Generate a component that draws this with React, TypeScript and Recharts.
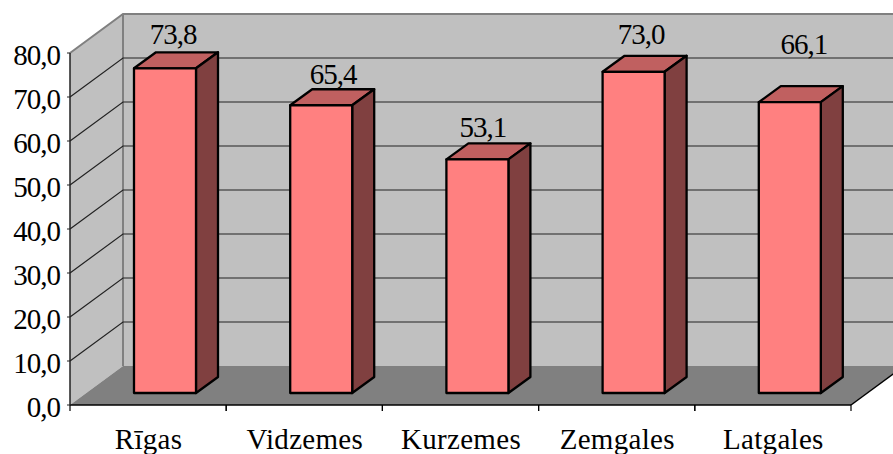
import { BarChart, Bar, XAxis, YAxis, CartesianGrid, ReferenceArea, LabelList } from 'recharts'

const REGIONS = ['Rīgas', 'Vidzemes', 'Kurzemes', 'Zemgales', 'Latgales']
const VALUES = [73.8, 65.4, 53.1, 73.0, 66.1]
const Y_TICKS = [0, 10, 20, 30, 40, 50, 60, 70, 80]

// the old 3D chart placed its labels by hand, so they need individual nudges
const LABEL_DX = [8, 12, 5.5, 7.5, 14]
const LABEL_DY = [24, 21, 22, 28, 48]

const WIDTH = 893
const HEIGHT = 454
const AXIS_W = 70
const AXIS_H = 49
const MARGIN = { top: 53, right: 42, bottom: 0, left: 0 }
const BAND = (WIDTH - AXIS_W - MARGIN.right) / REGIONS.length

// depth of the chart box and of the bars
const WALL_DX = 53
const WALL_DY = 39
const BAR_SHIFT_X = 17
const BAR_SHIFT_Y = 12
const BAR_DX = 22
const BAR_DY = 16

const FONT = '"Liberation Serif", "Times New Roman", serif'
const FONT_SIZE = 29
const fmt = (v: number) => v.toFixed(1).replace('.', ',')

function Walls({ x, y, width, height }: any) {
  const bottom = y + height
  const right = x + width
  return (
    <g>
      <polygon points={`${x},${y} ${x + WALL_DX},${y - WALL_DY} ${WIDTH + 20},${y - WALL_DY} ${WIDTH + 20},${bottom - WALL_DY} ${x + WALL_DX},${bottom - WALL_DY} ${x},${bottom}`} fill="#c0c0c0" />
      <polygon points={`${x},${bottom} ${x + WALL_DX},${bottom - WALL_DY} ${right + WALL_DX},${bottom - WALL_DY} ${right},${bottom}`} fill="#808080" />
      <polyline points={`${x},${y} ${x + WALL_DX},${y - WALL_DY} ${WIDTH + 20},${y - WALL_DY}`} fill="none" stroke="#808080" strokeWidth={2} />
      <line x1={x + WALL_DX} y1={y - WALL_DY} x2={x + WALL_DX} y2={bottom - WALL_DY} stroke="#808080" strokeWidth={2} />
      <line x1={right} y1={bottom} x2={right + WALL_DX} y2={bottom - WALL_DY} stroke="#000" strokeWidth={1.5} />
    </g>
  )
}

function GridLine({ x1, y1, x2, y2, index }: any) {
  // first and last ticks are the floor and the top edge of the wall
  if (y1 >= HEIGHT - AXIS_H - 1 || y1 <= MARGIN.top + 1) return <g key={index} />
  return (
    <polyline
      key={index}
      points={`${x1},${y1} ${x1 + WALL_DX},${y1 - WALL_DY} ${WIDTH + 20},${y2 - WALL_DY}`}
      fill="none"
      stroke="#222"
      strokeWidth={1.2}
    />
  )
}

function Bar3D({ x, y, width, height }: any) {
  const l = x + BAR_SHIFT_X
  const t = y - BAR_SHIFT_Y
  const r = l + width
  const b = t + height
  return (
    <g stroke="#000" strokeWidth={2.3} strokeLinejoin="round">
      <polygon points={`${l},${t} ${l + BAR_DX},${t - BAR_DY} ${r + BAR_DX},${t - BAR_DY} ${r},${t}`} fill="#c06060" />
      <polygon points={`${r},${t} ${r + BAR_DX},${t - BAR_DY} ${r + BAR_DX},${b - BAR_DY} ${r},${b}`} fill="#804040" />
      <rect x={l} y={t} width={width} height={height} fill="#ff8080" />
    </g>
  )
}

function ValueLabel({ x, y, width, value, index }: any) {
  return (
    <text
      x={x + BAR_SHIFT_X + width / 2 + LABEL_DX[index]}
      y={y - BAR_SHIFT_Y - LABEL_DY[index]}
      textAnchor="middle"
      fontFamily={FONT}
      fontSize={FONT_SIZE}
      letterSpacing={-1}
      fill="#000"
    >
      {fmt(value)}
    </text>
  )
}

function RegionTick({ x, payload }: any) {
  const top = HEIGHT - AXIS_H
  return (
    <g>
      <line x1={x - BAND / 2} y1={top} x2={x - BAND / 2} y2={top + 6} stroke="#000" strokeWidth={1.2} />
      <line x1={x + BAND / 2} y1={top} x2={x + BAND / 2} y2={top + 6} stroke="#000" strokeWidth={1.2} />
      <text x={x + 0.5} y={449} textAnchor="middle" fontFamily={FONT} fontSize={FONT_SIZE} letterSpacing={0.3} fill="#000">
        {payload.value}
      </text>
    </g>
  )
}

const data = REGIONS.map((region, i) => ({ region, value: VALUES[i] }))

export default function App() {
  return (
    <div style={{ position: 'absolute', left: 0, top: 0, width: WIDTH, height: HEIGHT, background: '#fff' }}>
      <BarChart width={WIDTH} height={HEIGHT} data={data} margin={MARGIN} barSize={62}>
        <ReferenceArea y1={0} y2={80} shape={<Walls />} zIndex={-200} ifOverflow="visible" />
        <CartesianGrid vertical={false} horizontal={GridLine as any} />
        <XAxis
          dataKey="region"
          interval={0}
          axisLine={{ stroke: '#000', strokeWidth: 1.5 }}
          tickLine={false}
          tick={<RegionTick />}
          height={AXIS_H}
        />
        <YAxis
          domain={[0, 80]}
          ticks={Y_TICKS}
          interval={0}
          width={AXIS_W}
          axisLine={{ stroke: '#222', strokeWidth: 1.5 }}
          tickLine={{ stroke: '#222' }}
          tickSize={3}
          tickMargin={7}
          tickFormatter={fmt}
          tick={{ fontFamily: FONT, fontSize: FONT_SIZE, letterSpacing: -1, fill: '#000', dy: 2 }}
        />
        <Bar dataKey="value" shape={<Bar3D />} isAnimationActive={false}>
          <LabelList dataKey="value" content={<ValueLabel />} />
        </Bar>
      </BarChart>
    </div>
  )
}
